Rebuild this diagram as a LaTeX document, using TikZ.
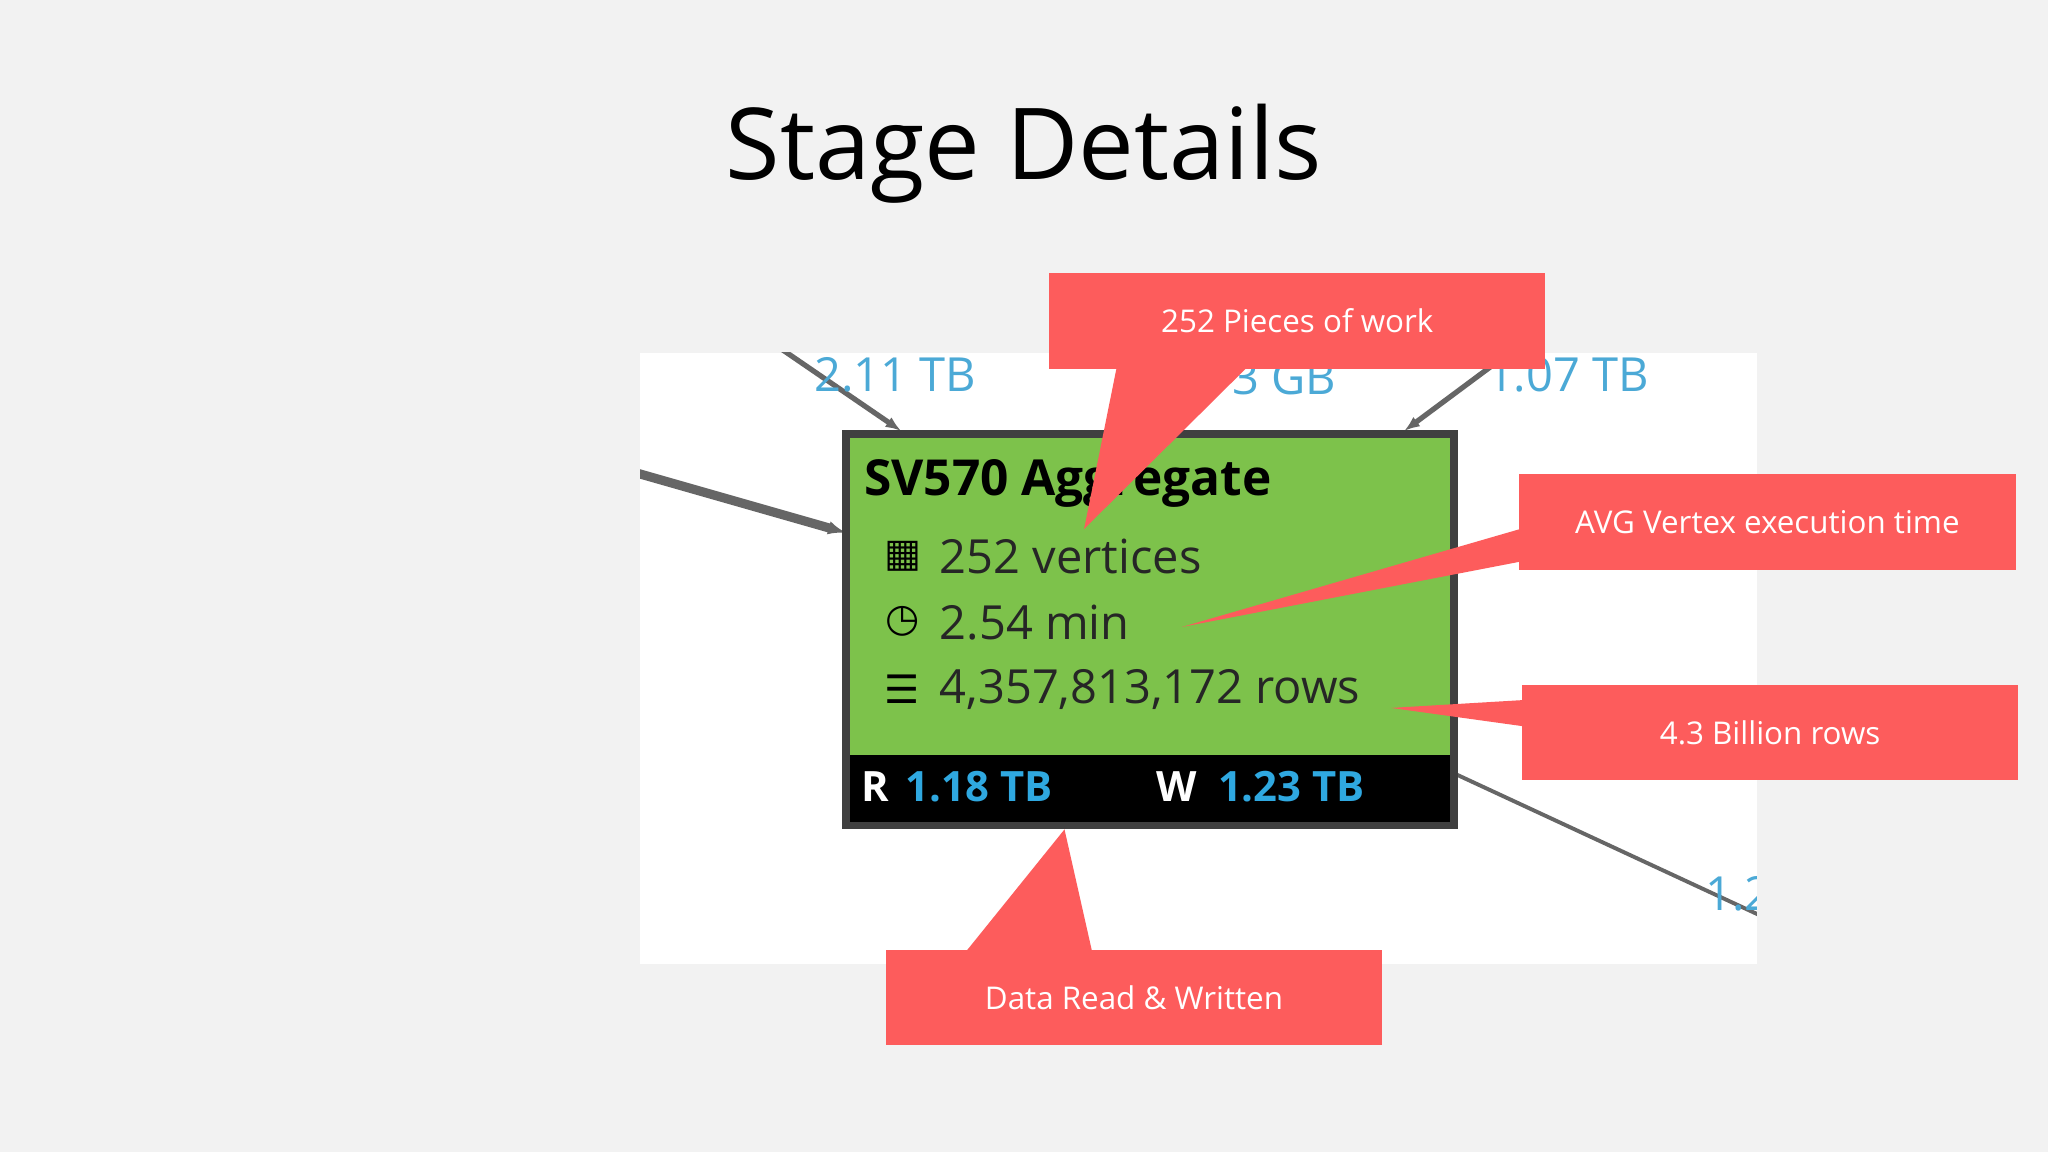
\documentclass[tikz,border=0pt]{standalone}
\usepackage{fontspec}
\usetikzlibrary{arrows.meta}
\setmainfont{Open Sans}
\newfontfamily\sym{DejaVu Sans}
\definecolor{bg}{HTML}{F2F2F2}
\definecolor{cred}{HTML}{FD5C5C}
\definecolor{gbox}{HTML}{7DC24B}
\definecolor{lblue}{HTML}{4BA9D6}
\definecolor{dblue}{HTML}{2FA8E0}
\begin{document}
\begin{tikzpicture}[x=1pt,y=-1pt,
  callout/.style={fill=cred,draw=none,minimum width=380pt,minimum height=73pt,anchor=north west,text=white,font=\fontsize{24}{28}\selectfont},
  edge/.style={draw=gray!80!black,line width=4pt},
  lbl/.style={text=lblue,font=\fontsize{36}{40}\selectfont,anchor=west},
  body/.style={font=\fontsize{36}{40}\selectfont,anchor=west,text=black!85}]
\useasboundingbox (0,0) rectangle (1568,882);
\fill[bg] (0,0) rectangle (1568,882);
\node[font=\fontsize{76}{80}\selectfont,text=black] (title) at (784,118) {Stage Details};
\begin{scope}
\clip (490,270) rectangle (1345,738);
\fill[white] (490,270) rectangle (1345,738);
\coordinate (e1a) at (480,360); \coordinate (e1b) at (648,408);
\coordinate (e2a) at (595,265); \coordinate (e2b) at (690,330);
\coordinate (e3a) at (1145,278); \coordinate (e3b) at (1075,330);
\coordinate (e4a) at (1113,592); \coordinate (e4b) at (1350,702);
\draw[edge,line width=7pt,-{Latex[length=14pt]}] (e1a) -- (e1b);
\draw[edge,-{Latex[length=12pt]}] (e2a) -- (e2b);
\draw[edge,-{Latex[length=12pt]}] (e3a) -- (e3b);
\draw[edge,line width=3pt] (e4a) -- (e4b);
\node[lbl] (l1) at (620,287) {2.11 TB};
\node[lbl] (l2) at (940,289) {3 GB};
\node[lbl] (l3) at (1135,287) {1.07 TB};
\node[lbl] (l4) at (1302,684) {1.2};
\end{scope}
\fill[gray!50!black] (645,329) rectangle (1116,635);
\fill[gbox] (651,335) rectangle (1110,578);
\fill[black] (651,578) rectangle (1110,629);
\node[font=\fontsize{38}{42}\selectfont\bfseries,anchor=west,text=black] (name) at (658,370) {SV570 Aggregate};
\node[body] (v) at (716,426) {252 vertices};
\node[body] (t) at (716,477) {2.54 min};
\node[body] (r) at (716,528) {4,357,813,172 rows};
\node[font=\fontsize{30}{30}\sym,anchor=center] (iv) at (691,426) {▦};
\node[font=\fontsize{30}{30}\sym,anchor=center] (it) at (691,476) {◷};
\node[font=\fontsize{30}{30}\sym,anchor=center] (ir) at (691,528) {☰};
\node[font=\fontsize{32}{36}\selectfont\bfseries,anchor=west,text=white] (R) at (656,602) {R};
\node[font=\fontsize{32}{36}\selectfont\bfseries,anchor=west,text=dblue] (R2) at (690,602) {1.18 TB};
\node[font=\fontsize{32}{36}\selectfont\bfseries,anchor=west,text=white] (W) at (882,602) {W};
\node[font=\fontsize{32}{36}\selectfont\bfseries,anchor=west,text=dblue] (W2) at (929,602) {1.23 TB};
% callouts
\node[callout] (c1) at (803,209) {252 Pieces of work};
\fill[cred] (855,281) -- (955,281) -- (830,405) -- cycle;
\node[callout] (c2) at (1163,363) {AVG Vertex execution time};
\fill[cred] (1164,405) -- (1164,430) -- (905,480) -- cycle;
\node[callout] (c3) at (1165,524) {4.3 Billion rows};
\fill[cred] (1166,536) -- (1166,556) -- (1065,542) -- cycle;
\node[callout] (c4) at (678,727) {Data Read \& Written};
\fill[cred] (740,728) -- (836,728) -- (815,635) -- cycle;
\end{tikzpicture}
\end{document}
